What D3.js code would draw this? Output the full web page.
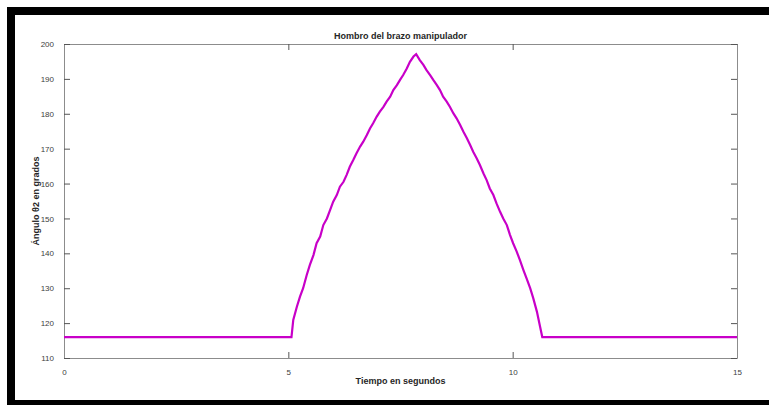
<!DOCTYPE html>
<html lang="es">
<head>
    <meta charset="UTF-8">
    <title>Hombro del brazo manipulador</title>
    <script src="https://d3js.org/d3.v7.min.js"></script>
    <style>
        body {
            margin: 0;
            background: #fff;
        }
        svg text {
            font-family: "Liberation Sans", Arial, sans-serif;
        }
        .tick-label {
            font-size: 8px;
            fill: #404040;
        }
        .axis-label {
            font-size: 9px;
            font-weight: bold;
            fill: #262626;
        }
    </style>
</head>
<body>
<div id="chart"></div>

<script>
// tiempo (s) y angulo (grados)
const tiempo = [
    0, 5.07,
    5.11, 5.19, 5.26, 5.33, 5.41, 5.48, 5.56, 5.63, 5.71, 5.78,
    5.86, 5.93, 6.00, 6.08, 6.15, 6.23, 6.30, 6.37, 6.45, 6.52,
    6.60, 6.67, 6.75, 6.82, 6.89, 6.97, 7.04, 7.12, 7.19, 7.27,
    7.34, 7.42, 7.49, 7.56, 7.64, 7.71, 7.79, 7.85,
    7.93, 8.01, 8.08, 8.16, 8.23, 8.31, 8.38, 8.45, 8.53, 8.60,
    8.68, 8.75, 8.83, 8.90, 8.98, 9.05, 9.12, 9.20, 9.27, 9.35,
    9.42, 9.49, 9.57, 9.64, 9.72, 9.79, 9.87, 9.94, 10.01, 10.09,
    10.16, 10.24, 10.31, 10.39, 10.46, 10.54, 10.61, 10.66, 15
];
const angulo = [
    116, 116,
    120.9, 124.7, 127.6, 130.0, 133.8, 136.7, 139.5, 142.9, 144.8, 148.1,
    150.0, 152.4, 154.8, 156.7, 159.1, 160.5, 162.5, 164.8, 166.8, 168.7,
    170.6, 172.0, 173.9, 175.8, 177.3, 179.2, 180.6, 182.0, 183.5, 184.9,
    186.8, 188.2, 189.7, 191.1, 193.0, 194.9, 196.4, 197.1,
    195.4, 194.0, 192.5, 191.1, 189.7, 188.2, 186.8, 184.9, 183.5, 182.0,
    180.1, 178.7, 176.8, 174.9, 173.0, 171.1, 169.1, 167.2, 165.3, 162.9,
    161.0, 158.6, 156.7, 154.3, 151.9, 150.0, 148.1, 145.3, 142.9, 140.5,
    138.1, 135.2, 132.8, 130.0, 127.1, 123.3, 119.0, 116.0, 116
];
const xTicks = [0, 5, 10, 15];
const yTicks = [110, 120, 130, 140, 150, 160, 170, 180, 190, 200];

const W = 769, H = 405;
const margin = { top: 44, right: 32, bottom: 47, left: 64 };
const width = W - margin.left - margin.right;
const height = H - margin.top - margin.bottom;

const svg = d3.select("#chart")
    .append("svg")
    .attr("width", W)
    .attr("height", H);

// marco negro de la captura
svg.append("rect")
    .attr("x", 7).attr("y", 7)
    .attr("width", W).attr("height", H)
    .attr("fill", "#000");
svg.append("rect")
    .attr("x", 15).attr("y", 15)
    .attr("width", W).attr("height", 385)
    .attr("fill", "#fff");

const g = svg.append("g")
    .attr("transform", `translate(${margin.left},${margin.top})`);

const x = d3.scaleLinear().domain([0, 15]).range([0, width]);
const y = d3.scaleLinear().domain([110, 200]).range([height, 0]);

const axisColor = "#8c8c8c";

function styleAxis(sel, hideText) {
    sel.select(".domain").attr("stroke", axisColor);
    sel.selectAll(".tick line").attr("stroke", "#555");
    sel.selectAll(".tick text").attr("class", "tick-label");
    if (hideText) sel.selectAll(".tick text").remove();
}

g.append("g")
    .attr("transform", `translate(0,${height})`)
    .call(d3.axisBottom(x).tickValues(xTicks).tickSizeInner(-6).tickSizeOuter(0).tickPadding(11).tickFormat(d3.format("d")))
    .call(s => styleAxis(s, false));

g.append("g")
    .call(d3.axisTop(x).tickValues(xTicks).tickSizeInner(-6).tickSizeOuter(0))
    .call(s => styleAxis(s, true));

g.append("g")
    .call(d3.axisLeft(y).tickValues(yTicks).tickSizeInner(-6).tickSizeOuter(0).tickPadding(10).tickFormat(d3.format("d")))
    .call(s => styleAxis(s, false));

g.append("g")
    .attr("transform", `translate(${width},0)`)
    .call(d3.axisRight(y).tickValues(yTicks).tickSizeInner(-6).tickSizeOuter(0))
    .call(s => styleAxis(s, true));

const data = tiempo.map((t, i) => ({ t: t, v: angulo[i] }));

const line = d3.line()
    .x(d => x(d.t))
    .y(d => y(d.v));

g.append("path")
    .datum(data)
    .attr("d", line)
    .attr("fill", "none")
    .attr("stroke", "#c800c8")
    .attr("stroke-width", 2.2)
    .attr("stroke-linejoin", "miter");

g.append("text")
    .attr("class", "axis-label")
    .attr("x", width / 2)
    .attr("y", -5)
    .attr("text-anchor", "middle")
    .text("Hombro del brazo manipulador");

g.append("text")
    .attr("class", "axis-label")
    .attr("x", width / 2)
    .attr("y", height + 26)
    .attr("text-anchor", "middle")
    .text("Tiempo en segundos");

g.append("text")
    .attr("class", "axis-label")
    .attr("transform", `translate(-25,${height / 2}) rotate(-90)`)
    .attr("text-anchor", "middle")
    .text("Ángulo θ2 en grados");
</script>
</body>
</html>
